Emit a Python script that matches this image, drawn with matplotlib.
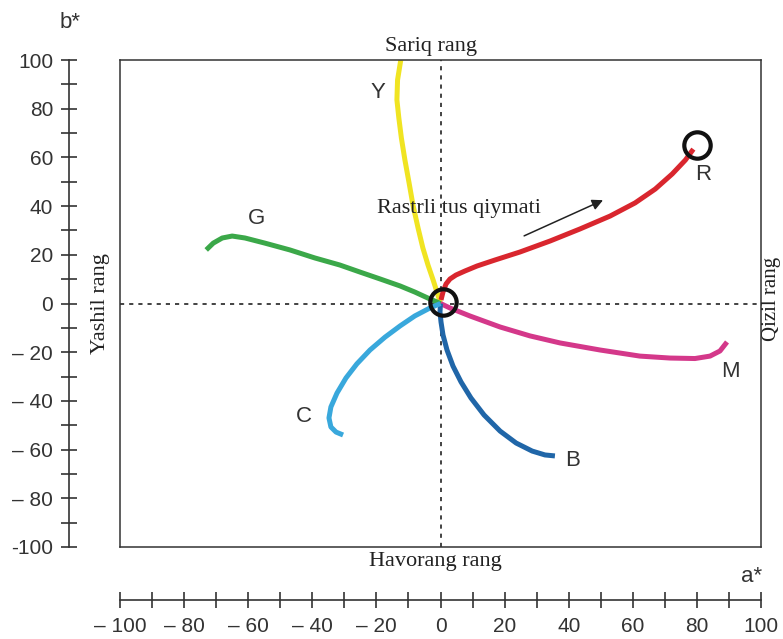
import numpy as np
import matplotlib.pyplot as plt
from matplotlib.ticker import MultipleLocator

# curves in a*, b*
y_a = [0, -1.1, -2.3, -3.9, -5.5, -7.0, -8.6, -9.8, -11.1, -12.2, -13.0, -13.6, -13.4, -12.4]
y_b = [0, 4.7, 9.65, 15.8, 22.8, 31.0, 40.5, 49.5, 58.9, 67.9, 76.2, 83.6, 91.8, 100.0]

g_a = [0, -3.3, -8.0, -12.6, -18.9, -25.1, -31.4, -39.2, -47.0, -54.8, -61.0, -65.0, -68.1, -70.9, -73.1]
g_b = [0, 1.85, 4.7, 7.2, 10.1, 12.9, 15.8, 18.7, 22.0, 24.8, 26.9, 27.7, 26.9, 24.8, 22.0]

r_a = [0.16, 0.78, 1.72, 2.96, 4.84, 7.64, 11.4, 17.0, 24.8, 34.2, 43.5, 52.9, 60.7, 67.0, 72.3, 76.4, 78.9]
r_b = [1.44, 4.72, 8.01, 10.06, 11.7, 13.35, 15.4, 17.86, 21.15, 25.67, 30.6, 35.9, 41.3, 47.0, 53.2, 58.9, 63.4]

m_a = [0, 2.96, 9.2, 18.6, 27.9, 37.3, 49.8, 62.2, 71.6, 79.4, 84.1, 87.2, 89.4]
m_b = [0, -1.85, -5.13, -9.65, -13.3, -16.2, -19.1, -21.6, -22.4, -22.6, -21.6, -19.5, -15.8]

b_a = [0, -0.16, 0.16, 0.78, 2.03, 3.9, 6.4, 9.5, 13.6, 18.6, 23.6, 28.6, 32.6, 35.7]
b_b = [0, -3.5, -7.6, -12.9, -19.1, -25.7, -32.2, -38.8, -45.8, -52.4, -57.3, -60.6, -62.2, -62.6]

c_a = [0, -3.3, -8.0, -12.6, -17.3, -22.0, -26.1, -29.5, -32.3, -34.2, -34.8, -34.2, -32.6, -30.4]
c_b = [0, -1.85, -5.1, -9.2, -13.8, -19.1, -24.8, -30.6, -36.8, -42.5, -47.0, -50.7, -52.8, -54.0]

curve_colors = ['#f0e422', '#3ba849', '#d9262e', '#d4388a', '#2066a8', '#39a8dc']
letters = ['Y', 'G', 'R', 'M', 'B', 'C']
letter_pos = [(-19.5, 86.5), (-57.5, 35), (82, 53), (90.5, -28), (41.3, -64.3), (-42.6, -46.6)]

circle_pts = [(0.8, 0.6), (80.0, 65.0)]
arrow_from = (25.3, 27.3)
arrow_to = (51.5, 42.9)

ticks_major = np.arange(-100, 101, 20)
ylabels = ['-100' if t == -100 else ('– %d' % -t if t < 0 else '%d' % t) for t in ticks_major]
xlabels = ['– %d' % -t if t < 0 else '%d' % t for t in ticks_major]

W, H = 783, 639
fig = plt.figure(figsize=(W / 100, H / 100), dpi=100)

def box(x0, y0, x1, y1):
    return [x0 / W, 1 - y1 / H, (x1 - x0) / W, (y1 - y0) / H]

ax = fig.add_axes(box(120, 60, 761, 547))
ax.set_xlim(-100, 100)
ax.set_ylim(-100, 100)
ax.set_xticks([])
ax.set_yticks([])
for s in ax.spines.values():
    s.set_color('#333333')
    s.set_linewidth(1.1)

ax.axhline(0, color='#222222', lw=1.2, ls=(0, (2.5, 3)))
ax.axvline(0, color='#222222', lw=1.2, ls=(0, (2.5, 3)))

curves = [(y_a, y_b), (g_a, g_b), (r_a, r_b), (m_a, m_b), (b_a, b_b), (c_a, c_b)]
for (xs, ys), col in zip(curves, curve_colors):
    ax.plot(xs, ys, color=col, lw=3.6, solid_capstyle='butt', solid_joinstyle='round')

for (tx, ty), lab in zip(letter_pos, letters):
    ax.text(tx, ty, lab, fontsize=16, color='#333333', family='Liberation Sans',
            ha='center', va='center')

for cx, cy in circle_pts:
    ax.plot(cx, cy, 'o', ms=19, mfc='none', mec='#111111', mew=3)

ax.annotate('', xy=arrow_to, xytext=arrow_from,
            arrowprops=dict(arrowstyle='-|>', color='#222222', lw=1.1, mutation_scale=16))

serif = 'Liberation Serif'
ax.text(-19.7, 39, 'Rastrli tus qiymati', fontsize=16, family=serif, color='#222222',
        ha='left', va='center')
ax.text(-3, 101.5, 'Sariq rang', fontsize=16, family=serif, color='#222222',
        ha='center', va='bottom')
ax.text(-1.5, -102, 'Havorang rang', fontsize=16, family=serif, color='#222222',
        ha='center', va='top')
ax.text(-106.2, 0, 'Yashil rang', fontsize=16, family=serif, color='#222222',
        ha='center', va='center', rotation=90)
ax.text(103.2, 2, 'Qizil rang', fontsize=15, family=serif, color='#222222',
        ha='center', va='center', rotation=90)

# separate b* scale on the left
ay = fig.add_axes(box(69, 60, 69.5, 547))
ay.set_ylim(-100, 100)
ay.set_xticks([])
for k in ['top', 'right', 'bottom']:
    ay.spines[k].set_visible(False)
ay.spines['left'].set_color('#333333')
ay.spines['left'].set_linewidth(1.2)
ay.set_yticks(ticks_major)
ay.set_yticklabels(ylabels, family='Liberation Sans', fontsize=15, color='#333333')
ay.yaxis.set_minor_locator(MultipleLocator(10))
ay.tick_params(axis='y', which='both', direction='inout', length=11, width=1.2,
               color='#333333', pad=6)
ay.patch.set_visible(False)
fig.text(70 / W, 1 - 22 / H, 'b*', fontsize=16, family='Liberation Sans', color='#333333',
         ha='center', va='center')

# separate a* scale at the bottom
axx = fig.add_axes(box(120, 599.5, 761, 600))
axx.set_xlim(-100, 100)
axx.set_yticks([])
for k in ['top', 'right', 'left']:
    axx.spines[k].set_visible(False)
axx.spines['bottom'].set_color('#333333')
axx.spines['bottom'].set_linewidth(1.2)
axx.set_xticks(ticks_major)
axx.set_xticklabels(xlabels, family='Liberation Sans', fontsize=15, color='#333333')
axx.xaxis.set_minor_locator(MultipleLocator(10))
axx.tick_params(axis='x', which='both', direction='inout', length=11, width=1.2,
                color='#333333', pad=7)
axx.patch.set_visible(False)
fig.text(752 / W, 1 - 577 / H, 'a*', fontsize=16, family='Liberation Sans', color='#333333',
         ha='center', va='center')

fig.savefig('out.png', dpi=100)
